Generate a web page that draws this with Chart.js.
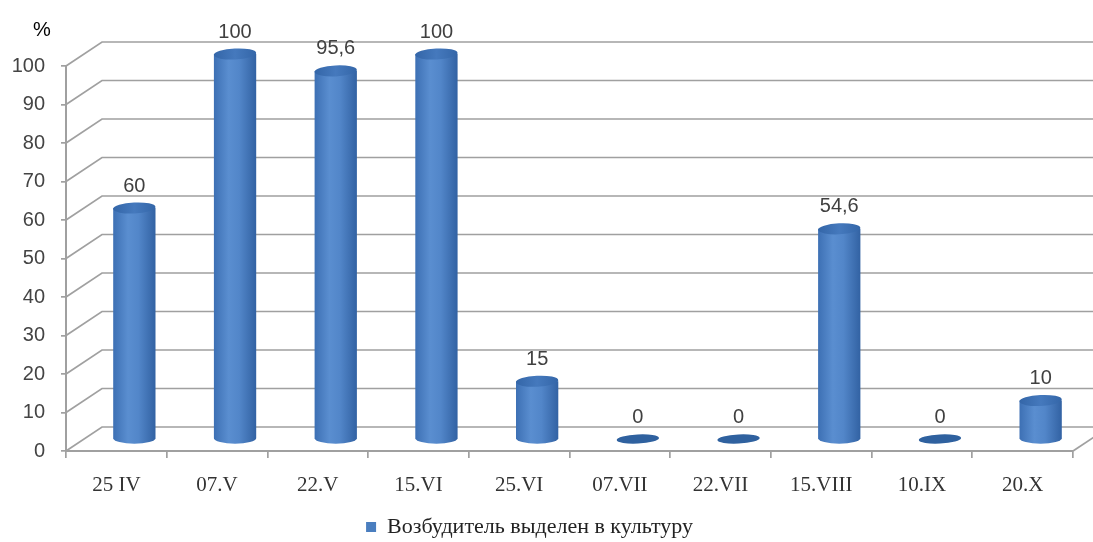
<!DOCTYPE html>
<html>
<head>
<meta charset="utf-8">
<script src="https://cdn.jsdelivr.net/npm/chart.js@4"></script>
<style>
  html, body { margin: 0; padding: 0; background: #ffffff; }
  #wrap { width: 1093px; height: 542px; }
</style>
</head>
<body>
<div id="wrap"><canvas id="c" width="1093" height="542"></canvas></div>
<script>
// ---- data ----
const categories = ['25 IV', '07.V', '22.V', '15.VI', '25.VI', '07.VII', '22.VII', '15.VIII', '10.IX', '20.X'];
const values = [60, 100, 95.6, 100, 15, 0, 0, 54.6, 0, 10];
const seriesName = 'Возбудитель выделен в культуру';
const yAxisUnit = '%';
const yMin = 0, yMax = 100, yStep = 10;

// ---- style ----
const SANS = '"Liberation Sans", Arial, sans-serif';
const SERIF = '"Liberation Serif", "Times New Roman", serif';
const GRID = '#a0a0a0';
const DEPTH_X = 36, DEPTH_Y = -24;   // 3D depth of the plot box
const CYL_RY = 5.5;                  // ellipse half-height of cylinders

function fmt(v) { return String(v).replace('.', ','); }

const plot3d = {
  id: 'plot3d',
  afterLayout(chart) {
    const lg = chart.legend;
    if (lg) {
      lg.left -= 7; lg.right -= 7;
      lg.top += 6; lg.bottom += 6;
    }
    const tb = chart.titleBlock;
    if (tb) { tb.left += 33; tb.right += 33; }
  },
  beforeDatasetsDraw(chart) {
    const { ctx, chartArea: { left, right }, scales: { y } } = chart;
    ctx.save();
    // back wall grid + side wall diagonals
    ctx.strokeStyle = GRID;
    ctx.lineWidth = 1.7;
    y.ticks.forEach(t => {
      const py = y.getPixelForValue(t.value);
      ctx.beginPath();
      ctx.moveTo(left, py);
      ctx.lineTo(left + DEPTH_X, py + DEPTH_Y);
      ctx.lineTo(right + DEPTH_X, py + DEPTH_Y);
      ctx.stroke();
    });
    const p0 = y.getPixelForValue(yMin);
    ctx.beginPath();
    ctx.moveTo(right, p0);
    ctx.lineTo(right + DEPTH_X, p0 + DEPTH_Y);
    ctx.stroke();

    // cylinders
    const meta = chart.getDatasetMeta(0);
    const hx = DEPTH_X / 2, hy = DEPTH_Y / 2;
    meta.data.forEach((bar, i) => {
      const cx = bar.x + hx;
      const topY = bar.y + hy;
      const botY = bar.base + hy;
      const rx = bar.width / 2;
      if (botY - topY > 0.5) {
        const g = ctx.createLinearGradient(cx - rx, 0, cx + rx, 0);
        g.addColorStop(0, '#3d70b4');
        g.addColorStop(0.35, '#5a8ed0');
        g.addColorStop(0.6, '#5286c9');
        g.addColorStop(1, '#3262a3');
        ctx.beginPath();
        ctx.moveTo(cx - rx, topY);
        ctx.lineTo(cx - rx, botY);
        ctx.ellipse(cx, botY, rx, CYL_RY, 0, Math.PI, 0, true);
        ctx.lineTo(cx + rx, topY);
        ctx.closePath();
        ctx.fillStyle = g;
        ctx.fill();
        const tg = ctx.createLinearGradient(cx - rx, 0, cx + rx, 0);
        tg.addColorStop(0, '#3466a8');
        tg.addColorStop(0.5, '#4579bd');
        tg.addColorStop(1, '#3466a8');
        ctx.beginPath();
        ctx.ellipse(cx, topY, rx, CYL_RY, -0.05, 0, Math.PI * 2);
        ctx.fillStyle = tg;
        ctx.fill();
      } else {
        ctx.beginPath();
        ctx.ellipse(cx, topY, rx, CYL_RY - 1, -0.05, 0, Math.PI * 2);
        ctx.fillStyle = '#2f619f';
        ctx.fill();
      }
      // value label
      ctx.fillStyle = '#404040';
      ctx.font = '20px ' + SANS;
      ctx.textAlign = 'center';
      ctx.textBaseline = 'middle';
      ctx.fillText(fmt(values[i]), cx, topY - 22);
    });
    ctx.restore();
    return false;
  }
};

new Chart(document.getElementById('c'), {
  type: 'bar',
  data: {
    labels: categories,
    datasets: [{
      label: seriesName,
      data: values,
      backgroundColor: '#4a7ebf',
      borderWidth: 0,
      categoryPercentage: 1,
      barPercentage: 0.42
    }]
  },
  options: {
    responsive: false,
    animation: false,
    devicePixelRatio: 1,
    layout: { padding: { left: 0, right: 20, top: 0, bottom: 0 } },
    plugins: {
      title: {
        display: true, text: yAxisUnit, align: 'start', color: '#000',
        font: { family: SANS, size: 20, weight: 'normal' },
        padding: { top: 18, bottom: 24 }
      },
      legend: {
        position: 'bottom',
        labels: {
          boxWidth: 10, boxHeight: 10, padding: 6, color: '#222',
          font: { family: SERIF, size: 22 }
        }
      },
      tooltip: { enabled: false }
    },
    scales: {
      x: {
        grid: { offset: true, drawOnChartArea: false, tickLength: 7, color: GRID, lineWidth: 1.7 },
        border: { color: GRID, width: 2 },
        ticks: { font: { family: SERIF, size: 21 }, color: '#333', padding: 15, maxRotation: 0, autoSkip: false },
        afterFit: s => { s.height = 53; }
      },
      y: {
        min: yMin, max: yMax,
        ticks: { stepSize: yStep, font: { family: SANS, size: 20 }, color: '#444', padding: 16 },
        grid: { drawOnChartArea: false, tickLength: 5, color: GRID, lineWidth: 1.7 },
        border: { color: GRID, width: 2 },
        afterFit: s => { s.width = 66; }
      }
    }
  },
  plugins: [plot3d]
});
</script>
</body>
</html>
